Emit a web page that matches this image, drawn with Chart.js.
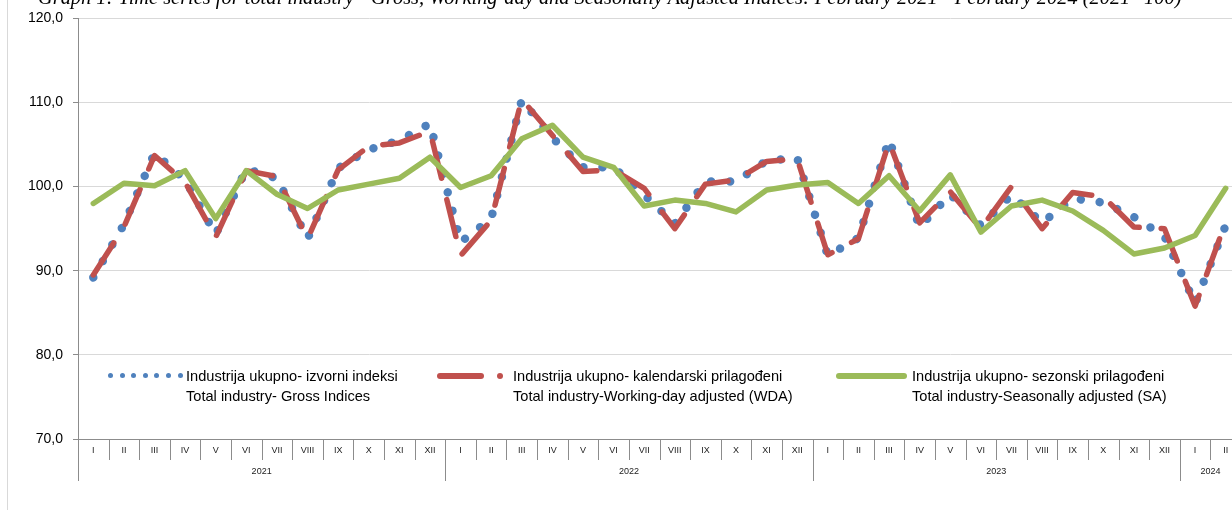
<!DOCTYPE html>
<html>
<head>
<meta charset="utf-8">
<script src="https://cdn.jsdelivr.net/npm/chart.js@4.4.1/dist/chart.umd.min.js"></script>
<style>
  html, body { margin: 0; padding: 0; background: #fff; overflow: hidden; }
  #wrap { position: relative; width: 1241px; height: 510px; }
  #chartBox { position: absolute; left: 0; top: 0; width: 1241px; height: 510px; }
  #frame { position: absolute; left: 7px; top: 0; width: 1px; height: 510px; background: #d9d9d9; }
  #title {
    position: absolute; left: 38px; top: -14px; white-space: nowrap;
    font: italic 20.4px "Liberation Serif", serif; color: #000;
  }
  .leg { position: absolute; font: 14.6px "Liberation Sans", Arial, sans-serif; color: #000; line-height: 20px; white-space: nowrap; }
  .dot { position: absolute; width: 5px; height: 5px; border-radius: 50%; background: #4F81BD; }
  .bar { position: absolute; height: 6px; border-radius: 3px; }
</style>
</head>
<body>
<div id="wrap">
  <div id="frame"></div>
  <div id="chartBox"><canvas id="chart"></canvas></div>
  <div id="title">Graph 1: Time series for total industry - Gross, Working-day and Seasonally Adjusted Indices: February 2021 - February 2024 (2021=100)</div>
  <div id="legend"></div>
</div>
<script>
// --- data ---
const months = ["I", "II", "III", "IV", "V", "VI", "VII", "VIII", "IX", "X", "XI", "XII"];
const years = ["2021", "2022", "2023", "2024"];
const monthsPerYear = [12, 12, 12, 2];

const gross = [
  89.2, 95.5, 104.0, 100.8, 94.3, 102.1, 101.0, 93.8, 102.2, 104.4, 105.5, 107.5,
  93.4, 96.2, 110.3, 105.8, 102.3, 102.3, 99.0, 95.6, 100.6, 100.6, 103.1, 103.4,
  91.8, 93.9, 105.6, 95.2, 99.1, 95.4, 99.0, 95.7, 98.6, 98.1, 96.4, 94.1,
  86.1, 95.4
];
const wda = [
  89.5, 95.2, 103.7, 100.5, 94.0, 101.9, 101.2, 93.8, 102.0, 104.8, 105.2, 106.6,
  91.8, 96.0, 110.4, 106.1, 101.8, 102.0, 99.8, 95.0, 100.3, 100.8, 103.0, 103.3,
  91.9, 93.8, 105.3, 95.7, 99.4, 95.0, 100.0, 95.0, 99.3, 98.8, 95.2, 95.0,
  85.8, 95.8
];
const sa = [
  98.0, 100.4, 100.1, 101.9, 96.2, 101.9, 99.1, 97.4, 99.6, 100.3, 101.0, 103.5,
  99.9, 101.3, 105.7, 107.3, 103.5, 102.3, 97.7, 98.4, 98.0, 97.0, 99.6, 100.2,
  100.5, 98.0, 101.3, 97.1, 101.4, 94.6, 97.7, 98.4, 97.1, 94.8, 92.0, 92.7,
  94.2, 99.8
];

const seriesNames = [
  ["Industrija ukupno- izvorni indeksi", "Total industry- Gross Indices"],
  ["Industrija ukupno- kalendarski prilagođeni", "Total industry-Working-day adjusted (WDA)"],
  ["Industrija ukupno- sezonski prilagođeni", "Total industry-Seasonally adjusted (SA)"]
];

// labels: roman month per point
const labels = [];
monthsPerYear.forEach((n) => { for (let m = 0; m < n; m++) labels.push(months[m]); });

const AXIS = "#8c8c8c";

// year groups + separators under the x axis
const groupAxis = {
  id: "groupAxis",
  afterDraw(chart) {
    const x = chart.scales.x;
    const ctx = chart.ctx;
    const bottom = chart.chartArea.bottom;
    const half = (x.getPixelForValue(1) - x.getPixelForValue(0)) / 2;
    ctx.save();
    ctx.strokeStyle = AXIS;
    ctx.lineWidth = 1;
    // short separators between months
    for (let i = 0; i <= labels.length; i++) {
      const px = Math.round(x.getPixelForValue(i) - half) + 0.5;
      ctx.beginPath();
      ctx.moveTo(px, bottom);
      ctx.lineTo(px, bottom + 21);
      ctx.stroke();
    }
    // long separators + year labels
    let start = 0;
    ctx.fillStyle = "#222";
    ctx.font = "9px 'Liberation Sans', Arial, sans-serif";
    ctx.textAlign = "center";
    ctx.textBaseline = "middle";
    monthsPerYear.forEach((n, k) => {
      const left = x.getPixelForValue(start) - half;
      const right = x.getPixelForValue(start + n - 1) + half;
      [left, right].forEach((p) => {
        const px = Math.round(p) + 0.5;
        ctx.beginPath();
        ctx.moveTo(px, bottom);
        ctx.lineTo(px, bottom + 42);
        ctx.stroke();
      });
      ctx.fillText(years[k], (left + right) / 2, bottom + 33);
      start += n;
    });
    ctx.restore();
  }
};

new Chart(document.getElementById("chart"), {
  type: "line",
  data: {
    labels: labels,
    datasets: [
      {
        label: seriesNames[0].join(" "),
        data: gross,
        borderColor: "#4F81BD",
        borderWidth: 8.5,
        borderDash: [0.01, 19],
        borderCapStyle: "round",
        borderJoinStyle: "round",
        pointRadius: 0,
        tension: 0,
        order: 3
      },
      {
        label: seriesNames[1].join(" "),
        data: wda,
        borderColor: "#C0504D",
        borderWidth: 5.5,
        borderDash: [38, 22],
        borderCapStyle: "round",
        borderJoinStyle: "round",
        pointRadius: 0,
        tension: 0,
        order: 2
      },
      {
        label: seriesNames[2].join(" "),
        data: sa,
        borderColor: "#9BBB59",
        borderWidth: 5.5,
        borderJoinStyle: "round",
        borderCapStyle: "round",
        pointRadius: 0,
        tension: 0,
        order: 1
      }
    ]
  },
  options: {
    responsive: true,
    maintainAspectRatio: false,
    animation: false,
    events: [],
    layout: { padding: { top: 17, right: 0, bottom: 0, left: 0 } },
    plugins: { legend: { display: false }, tooltip: { enabled: false } },
    scales: {
      x: {
        offset: true,
        grid: { display: false, drawTicks: false },
        border: { display: true, color: AXIS, width: 1 },
        ticks: {
          autoSkip: false,
          maxRotation: 0,
          padding: 6,
          color: "#222",
          font: { family: "'Liberation Sans', Arial, sans-serif", size: 9 }
        },
        afterFit(scale) { scale.height = 71; }
      },
      y: {
        min: 70,
        max: 120,
        ticks: {
          stepSize: 10,
          padding: 10,
          color: "#000",
          font: { family: "'Liberation Sans', Arial, sans-serif", size: 14 },
          callback: (v) => v.toFixed(1).replace(".", ",")
        },
        grid: { color: "#d9d9d9", tickColor: AXIS, tickLength: 5, drawTicks: true },
        border: { display: true, color: AXIS, width: 1 },
        afterFit(scale) { scale.width = 78; }
      }
    }
  },
  plugins: [groupAxis]
});

// --- legend (html) ---
const legend = document.getElementById("legend");
const legendX = [186, 513, 912];
function addText(x, y, txt) {
  const d = document.createElement("div");
  d.className = "leg";
  d.style.left = x + "px";
  d.style.top = y + "px";
  d.textContent = txt;
  legend.appendChild(d);
}
for (let k = 0; k < 7; k++) {
  const d = document.createElement("div");
  d.className = "dot";
  d.style.left = (108 + k * 11.6) + "px";
  d.style.top = "373px";
  legend.appendChild(d);
}
[[437, 47, "#C0504D"], [497, 6, "#C0504D"], [836, 71, "#9BBB59"]].forEach(([l, w, c]) => {
  const b = document.createElement("div");
  b.className = "bar";
  b.style.left = l + "px";
  b.style.width = w + "px";
  b.style.top = "373px";
  b.style.background = c;
  legend.appendChild(b);
});
seriesNames.forEach((nm, k) => {
  addText(legendX[k], 366, nm[0]);
  addText(legendX[k], 386, nm[1]);
});
</script>
</body>
</html>
